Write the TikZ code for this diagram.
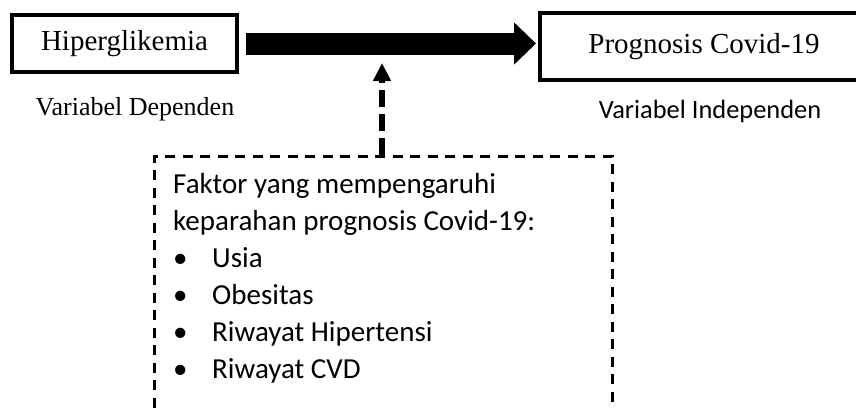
\documentclass[tikz,border=0pt]{standalone}
\usepackage{fontspec}
\setmainfont{Liberation Serif}
\newfontfamily\calibri{Carlito}
\usetikzlibrary{arrows.meta}
\tikzset{
  varbox/.style={draw, line width=4pt, rectangle, inner sep=0pt, font=\fontsize{29}{34}\selectfont},
  boxline/.style={line width=4pt, line join=miter},
  serifnote/.style={inner sep=0pt, anchor=base, font=\fontsize{26}{30}\selectfont},
  sansnote/.style={inner sep=0pt, anchor=base, font=\calibri\fontsize{26.4}{30}\selectfont},
  factline/.style={inner sep=0pt, anchor=base west, font=\calibri\fontsize{29}{37}\selectfont},
  bigarrow/.style={line width=22pt, -{Triangle[length=22pt,width=41pt]}},
  dasharrow/.style={line width=5.5pt, dash pattern=on 17pt off 7pt, -{Triangle[length=18pt,width=17pt]}},
  dashbox/.style={draw, line width=2.5pt, dash pattern=on 10pt off 7.5pt, rectangle, inner sep=0pt}
}
\newcommand{\blt}[1]{\makebox[39pt][l]{\textbullet}#1}
\begin{document}
\begin{tikzpicture}[x=1pt,y=-1pt]
\useasboundingbox (0,0) rectangle (856,407);
\node[varbox, minimum width=225pt, minimum height=57pt] (hip) at (124.5,43.5) {Hiperglikemia};
\node[varbox, draw=none, minimum width=324pt, minimum height=63pt] (prog) at (704,46.5) {Prognosis Covid-19};
\coordinate (pne) at (prog.north -| 856,0);
\coordinate (pse) at (prog.south -| 856,0);
\draw[boxline] (pne) -- (prog.north west) -- (prog.south west) -- (pse);
\node[serifnote] (dep) at (135,115) {Variabel Dependen};
\node[sansnote] (indep) at (710,118) {Variabel Independen};
\node[dashbox, minimum width=458pt, minimum height=260pt, anchor=north west] (fbox) at (153,155) {};
\node[factline] (l1) at (173,193) {Faktor yang mempengaruhi};
\node[factline] (l2) at (173,230) {keparahan prognosis Covid-19:};
\node[factline] (l3) at (173,267) {\blt{Usia}};
\node[factline] (l4) at (173,304) {\blt{Obesitas}};
\node[factline] (l5) at (173,341) {\blt{Riwayat Hipertensi}};
\node[factline] (l6) at (173,378) {\blt{Riwayat CVD}};
\draw[bigarrow, shorten <=7pt, shorten >=4pt] (hip.east) -- (prog.west |- hip.east);
\coordinate (tip) at (382,63);
\draw[dasharrow] (fbox.north -| tip) -- (tip);
\end{tikzpicture}
\end{document}
